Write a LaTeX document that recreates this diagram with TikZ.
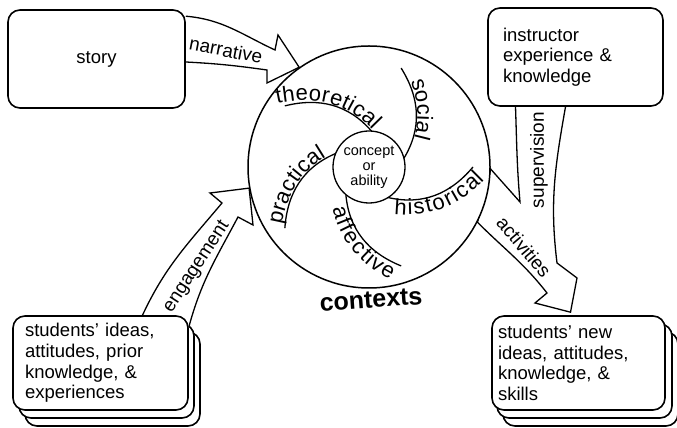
\documentclass[tikz,border=0pt]{standalone}
\usepackage{fontspec}
\setmainfont{Liberation Sans}
\usetikzlibrary{calc,backgrounds,decorations.text}

\newcommand\boxfont{\fontsize{18.5}{20.7}\selectfont}
\newcommand\tagfont{\fontsize{19}{19}\selectfont}
\newcommand\arcfont{\fontsize{22}{22}\selectfont}
\newcommand\corefont{\fontsize{14.5}{15}\selectfont}

\tikzset{
  card/.style={draw,line width=1.6pt,rounded corners=12pt,fill=white,
    font=\boxfont,align=left,inner sep=0pt},
  flow/.style={draw,line width=1.3pt,fill=white,line join=miter},
  tag/.style={font=\tagfont,inner sep=0pt},
}

\begin{document}
\begin{tikzpicture}[x=1pt,y=1pt,line join=round]
      \useasboundingbox (0,0) rectangle (677,428);

      \begin{scope}[every node/.style={card}]
        \node[minimum width=177pt,minimum height=98pt,align=center] (story) at (96.5,369) {story};
        \node[text width=145pt,inner xsep=15pt,minimum height=98pt] (instr) at (575.5,371)
          {instructor\\experience \&\\knowledge};
        \node[text width=151pt,inner xsep=12pt,minimum height=94pt] (old) at (100.5,65)
          {students' ideas,\\attitudes, prior\\knowledge, \&\\experiences};
        \node[text width=161pt,inner xsep=6pt,minimum height=94pt] (new) at (578.5,65)
          {students' new\\ideas, attitudes,\\knowledge, \&\\skills};
      \end{scope}

      \node[draw,circle,line width=1.5pt,fill=white,minimum size=242pt] (ctx) at (369,261) {};

      \begin{scope}[on background layer]
        \begin{scope}[every node/.style={card,minimum width=175pt,minimum height=94pt}]
          \node (old2) at (112.5,49) {};
          \node (old1) at (106.5,57) {};
          \node (new2) at (590.5,49) {};
          \node (new1) at (584.5,57) {};
        \end{scope}

        \draw[flow] ([yshift=-7pt]story.north east) to[out=-5,in=155] (275,378) -- (278,393)
          -- (ctx.125) -- (267,345) -- (267,358) to[out=172,in=-3] ([yshift=-3pt]story.east);
        \draw[flow] ([xshift=42pt]old.north) to[out=65,in=230] (222,225) -- (210,235)
          -- (ctx.190) -- (253,203) -- (238,211) to[out=-118,in=75] ([yshift=-12pt]old.north east);
        \draw[flow] ([xshift=-60pt]instr.south) to[out=-88,in=95] (520,226) -- (ctx.-1)
          -- (ctx.-27) to[out=-45,in=128] (547,135) -- (535,125)
          -- ([xshift=-8pt,yshift=3pt]new.north) -- (577,150) -- (557,165)
          to[out=97,in=-100] ([xshift=-10pt]instr.south);
      \end{scope}

      \begin{scope}[every node/.style={tag}]
        \node[rotate=-11] (narr) at (226,378) {narrative};
        \node[rotate=57] (engage) at (197,161) {engagement};
        \node[rotate=90] (super) at (539,268) {supervision};
        \node[rotate=-50] (activ) at (524,181) {activities};
        \node[rotate=4,font=\fontsize{25}{25}\selectfont\bfseries] (contexts) at (371,128) {contexts};
      \end{scope}

      \begin{scope}[shift={(ctx.center)},line width=1.3pt]
        \foreach \a in {86,14,-58,-130,158}
          \draw (\a:36) to[out=\a+45,in=\a-72] (\a+58:104);

        \path[decorate,decoration={text along path,text align=center,raise=3pt,
          text={|\arcfont|theoretical}}] (148:112) to[out=14,in=131] (82:32);
        \path[decorate,decoration={text along path,text align=center,raise=3pt,
          text={|\arcfont|social}}] (76:112) to[out=-58,in=59] (10:32);
        \path[decorate,decoration={text along path,text align=center,raise=-17pt,
          text={|\arcfont|historical}}] (-62:32) to[out=-13,in=-130] (4:112);
        \path[decorate,decoration={text along path,text align=center,raise=-17pt,
          text={|\arcfont|affective}}] (-134:32) to[out=-85,in=158] (-68:112);
        \path[decorate,decoration={text along path,text align=center,raise=3pt,
          text={|\arcfont|practical}}] (220:112) to[out=86,in=203] (154:32);
      \end{scope}

      \node[draw,circle,line width=1.3pt,fill=white,minimum size=72pt,inner sep=0pt,
        align=center,font=\corefont] (core) at (ctx.center) {concept\\or\\ability};

    \end{tikzpicture}
\end{document}
